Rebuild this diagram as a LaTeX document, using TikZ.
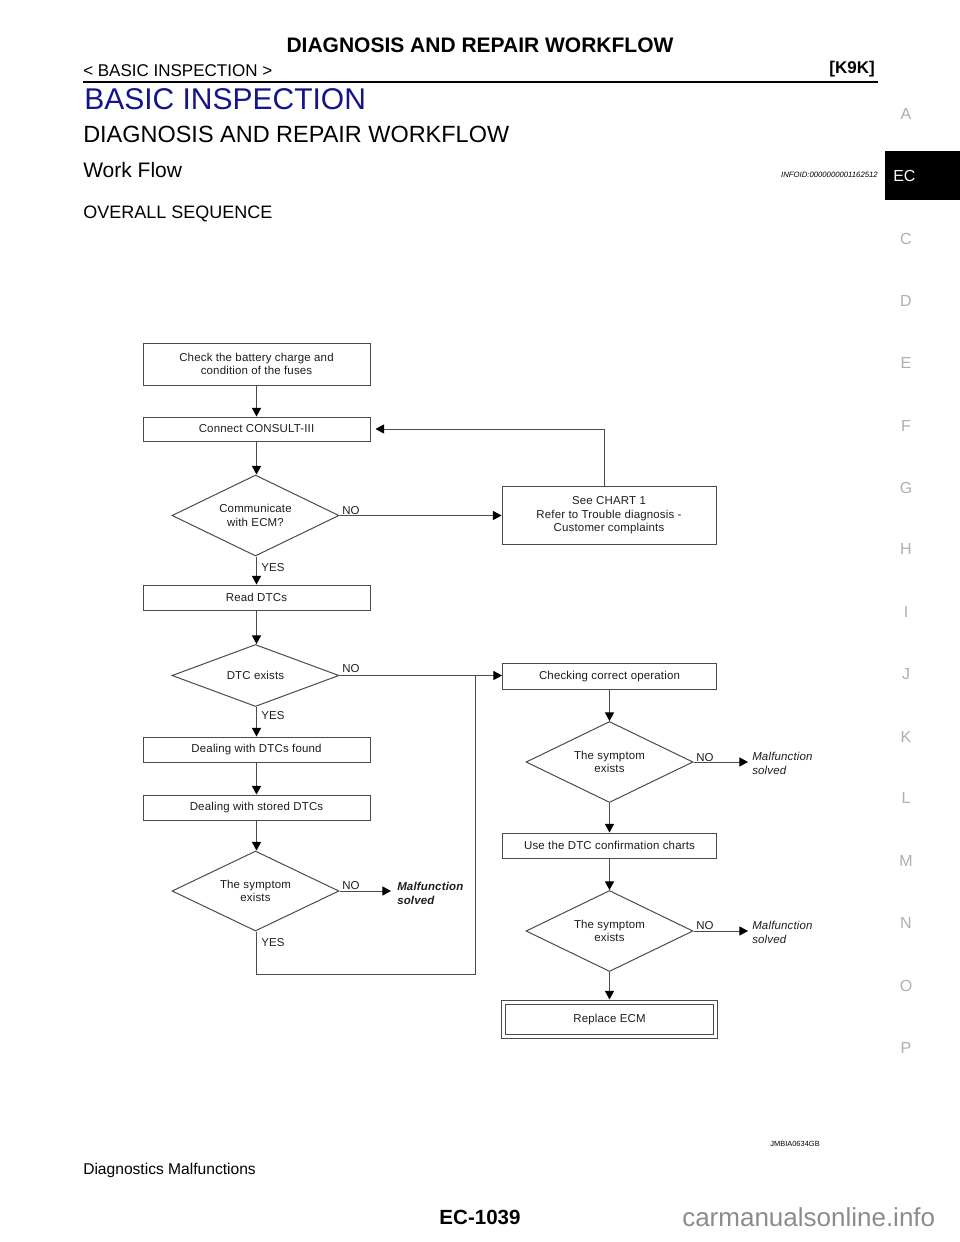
\documentclass[tikz,border=0pt]{standalone}
\usepackage{fontspec}
\setmainfont{Liberation Sans}
\usetikzlibrary{shapes.geometric,arrows.meta}
\definecolor{navy}{RGB}{20,20,140}
\definecolor{tabgray}{RGB}{175,175,175}
\definecolor{linegray}{RGB}{75,75,75}
\definecolor{wmgray}{RGB}{140,140,140}
\definecolor{fctext}{RGB}{30,30,30}
\begin{document}
\begin{tikzpicture}[x=0.75pt,y=-0.75pt,
  fc/.style={text=fctext, font=\fontsize{8.6}{10.1}\selectfont\addfontfeature{LetterSpace=1.5}},
  box/.style={draw=linegray, line width=0.75pt, fc, align=center, inner sep=0pt},
  lbox/.style={box, minimum width=170.25pt},
  rbox/.style={box, minimum width=160.5pt},
  dec/.style={diamond, aspect=2, draw=linegray, line width=0.75pt, fc, align=center, inner sep=0pt, minimum width=125.25pt},
  arr/.style={draw=linegray, line width=0.75pt, -{Triangle[length=6.4pt,width=6.75pt,color=black]}},
  conn/.style={draw=linegray, line width=0.75pt},
  lbl/.style={fc, inner sep=0pt, anchor=base west},
  msg/.style={inner sep=0pt, anchor=west, align=left, text=fctext, font=\fontsize{8.6}{10.1}\selectfont\itshape\addfontfeature{LetterSpace=1.5}},
  tab/.style={text=tabgray, inner sep=0pt, font=\fontsize{12}{14}\selectfont},
  txt/.style={inner sep=0pt},
]
\useasboundingbox (0,0) rectangle (960,1242);
\fill[white] (0,0) rectangle (960,1242);

% ---------- page header ----------
\node[txt, anchor=base, font=\fontsize{15.75}{18}\selectfont\bfseries] (title) at (480,52) {DIAGNOSIS AND REPAIR WORKFLOW};
\node[txt, anchor=base west, font=\fontsize{12.75}{15}\selectfont] (sect) at (83,76) {< BASIC INSPECTION >};
\node[txt, anchor=base east, font=\fontsize{12.75}{15}\selectfont\bfseries] (eng) at (875,73) {[K9K]};
\coordinate (hl1) at (83,82);
\coordinate (hl2) at (878,82);
\draw[line width=1.5pt] (hl1) -- (hl2);
\node[txt, anchor=base west, text=navy, font=\fontsize{22.5}{26}\selectfont] (basic) at (84,109) {BASIC INSPECTION};
\node[txt, anchor=base west, font=\fontsize{17.6}{21}\selectfont] (diag) at (83,142) {DIAGNOSIS AND REPAIR WORKFLOW};
\node[txt, anchor=base west, font=\fontsize{15.75}{18}\selectfont] (wf) at (83,177) {Work Flow};
\node[txt, anchor=base east, font=\fontsize{5.8}{7}\selectfont\itshape] (info) at (878,177) {INFOID:0000000001162512};
\node[txt, anchor=base west, font=\fontsize{13.5}{16}\selectfont] (ovs) at (83,218) {OVERALL SEQUENCE};

% ---------- side tabs ----------
\node[fill=black, minimum width=56.25pt, minimum height=36.75pt, inner sep=0pt, anchor=north west] (ecbox) at (885,151) {};
\node[txt, anchor=west, text=white, font=\fontsize{12}{14}\selectfont] (ectxt) at (893,176) {EC};
\foreach \l/\yy in {A/114,C/239,D/301,E/363,F/426,G/488,H/549,I/612,J/674,K/737,L/798,M/861,N/923,O/986,P/1048}
  \node[tab] (tab\l) at (906,\yy) {\l};

% ---------- flowchart nodes ----------
\node[lbox, minimum height=31.5pt] (b1) at (256.5,364) {Check the battery charge and\\condition of the fuses};
\node[lbox, minimum height=18pt] (b2) at (256.5,429) {Connect CONSULT-III};
\node[dec, minimum height=60.75pt] (d1) at (255.5,515.5) {Communicate\\with ECM?};
\node[rbox, minimum height=43.5pt] (b3) at (609,515.5) {See CHART 1\\Refer to Trouble diagnosis -\\Customer complaints};
\node[lbox, minimum height=18.75pt] (b4) at (256.5,597.5) {Read DTCs};
\node[dec, minimum height=46.5pt] (d2) at (255.5,675.5) {DTC exists};
\node[rbox, minimum height=19.5pt] (b5) at (609.5,676.5) {Checking correct operation};
\node[lbox, minimum height=18.75pt] (b6) at (256.5,749.5) {Dealing with DTCs found};
\node[lbox, minimum height=18.75pt] (b7) at (256.5,807.5) {Dealing with stored DTCs};
\node[dec, minimum height=60pt] (d3) at (255.5,891) {The symptom\\exists};
\node[dec, minimum height=60.75pt] (d4) at (609.5,762) {The symptom\\exists};
\node[rbox, minimum height=18.75pt] (b8) at (609.5,845.5) {Use the DTC confirmation charts};
\node[dec, minimum height=60.75pt] (d5) at (609.5,931) {The symptom\\exists};
\node[box, minimum width=159pt, minimum height=25.5pt, double=white, double distance=2.25pt] (b9) at (609.5,1019.5) {\raisebox{-1pt}{Replace ECM}};

% outcome texts
\node[msg, font=\fontsize{8.6}{10.1}\selectfont\bfseries\itshape\addfontfeature{LetterSpace=1.5}] (m1) at (397,893.5) {Malfunction\\solved};
\node[msg] (m2) at (752,763.5) {Malfunction\\solved};
\node[msg] (m3) at (752,932.5) {Malfunction\\solved};

% branch labels
\node[lbl] (no1) at (342,514) {NO};
\node[lbl] (yes1) at (261,571) {YES};
\node[lbl] (no2) at (342,672) {NO};
\node[lbl] (yes2) at (261,719) {YES};
\node[lbl] (no3) at (342,889) {NO};
\node[lbl] (yes3) at (261,946) {YES};
\node[lbl] (no4) at (696,761) {NO};
\node[lbl] (no5) at (696,929) {NO};

% ---------- connectors ----------
\draw[arr] (b1.south) -- (b2.north);
\draw[arr] (b2.south) -- (b2.south |- d1.north);
\draw[arr] (d1.east) -- (b3.west);
\draw[arr, shorten >=3.75pt] ([xshift=-3.75pt]b3.north) |- (b2.east);
\draw[arr] (b4.north |- d1.south) -- (b4.north);
\draw[arr] (b4.south) -- (b4.south |- d2.north);
\draw[arr] (d2.east) -- (d2.east -| b5.west);
\draw[arr] (b6.north |- d2.south) -- (b6.north);
\draw[arr] (b6.south) -- (b7.north);
\draw[arr] (b7.south) -- (b7.south |- d3.north);
\draw[arr, shorten >=4.5pt] (d3.east) -- (d3.east -| m1.west);
\coordinate (lb) at (475,974);
\draw[conn] (b7.south |- d3.south) |- (lb) -- (lb |- d2.east);
\draw[arr] (b5.south) -- (d4.north);
\draw[arr, shorten >=3pt] (d4.east) -- (d4.east -| m2.west);
\draw[arr] (d4.south) -- (b8.north);
\draw[arr] (b8.south) -- (d5.north);
\draw[arr, shorten >=3pt] (d5.east) -- (d5.east -| m3.west);
\draw[arr, shorten >=1.9pt] (d5.south) -- (b9.north);

% ---------- footer ----------
\node[txt, anchor=base east, font=\fontsize{5.6}{7}\selectfont] (fig) at (820,1146) {JMBIA0634GB};
\node[txt, anchor=base west, font=\fontsize{11.7}{14}\selectfont] (dm) at (83,1174) {Diagnostics Malfunctions};
\node[txt, anchor=base, font=\fontsize{15.4}{18}\selectfont\bfseries] (page) at (480,1224) {EC-1039};
\node[txt, anchor=base west, text=wmgray, font=\fontsize{19.5}{22}\selectfont] (wm) at (682,1226) {carmanualsonline.info};
\end{tikzpicture}
\end{document}
